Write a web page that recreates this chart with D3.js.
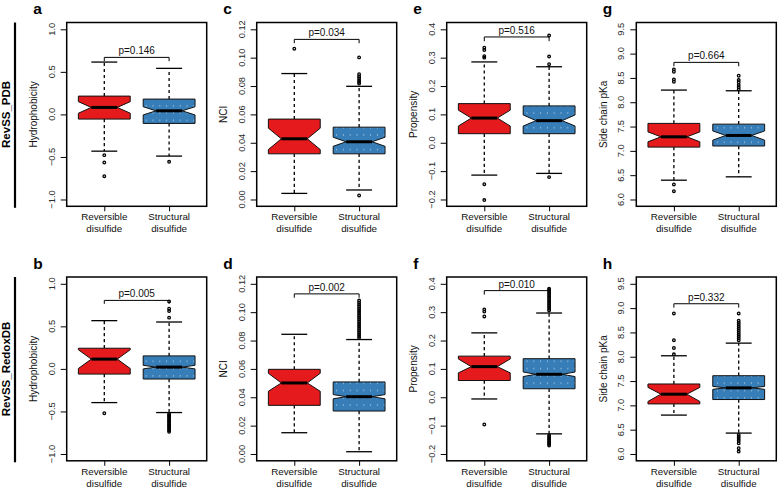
<!DOCTYPE html>
<html>
<head>
<meta charset="utf-8">
<script src="https://cdn.jsdelivr.net/npm/d3@7/dist/d3.min.js"></script>
<style>
  html, body { margin: 0; padding: 0; background: #fff; }
  text { font-family: "Liberation Sans", Arial, Helvetica, sans-serif; }
</style>
</head>
<body>
<svg id="chart" width="778" height="487"></svg>
<script>
// ---------------- DATA ----------------
const categories = ["Reversible disulfide", "Structural disulfide"];
const rowLabels = ["RevSS_PDB", "RevSS_RedoxDB"];
const panelIds = ["a", "b", "c", "d", "e", "f", "g", "h"];
const yTitles = ["Hydrophobicity", "NCI", "Propensity", "Side chain pKa"];
const yLimits = [[-1, 1], [0, 0.12], [-0.2, 0.4], [6, 9.5]];
const yTickValues = [
  [-1, -0.5, 0, 0.5, 1],
  [0, 0.02, 0.04, 0.06, 0.08, 0.10, 0.12],
  [-0.2, -0.1, 0, 0.1, 0.2, 0.3, 0.4],
  [6, 6.5, 7, 7.5, 8, 8.5, 9, 9.5]
];
const yTickLabels = [
  ["\u22121.0", "\u22120.5", "0.0", "0.5", "1.0"],
  ["0.00", "0.02", "0.04", "0.06", "0.08", "0.10", "0.12"],
  ["\u22120.2", "\u22120.1", "0.0", "0.1", "0.2", "0.3", "0.4"],
  ["6.0", "6.5", "7.0", "7.5", "8.0", "8.5", "9.0", "9.5"]
];
const pValues = ["p=0.146", "p=0.005", "p=0.034", "p=0.002", "p=0.516", "p=0.010", "p=0.664", "p=0.332"];
// bracket: [bar level, end of the drop]
const bracketLevels = [
  [0.67, 0.625], [0.805, 0.765], [0.1129, 0.1102], [0.1129, 0.1102],
  [0.373, 0.358], [0.376, 0.362], [8.82, 8.74], [9.09, 9.01]
];
// stats per group: [lower whisker, Q1, notch low, median, notch high, Q3, upper whisker]
const statsA = [[-0.432, -0.055, 0.014, 0.082, 0.15, 0.215, 0.615], [-0.49, -0.106, -0.006, 0.042, 0.09, 0.18, 0.541]];
const statsB = [[-0.396, -0.061, 0.005, 0.115, 0.225, 0.243, 0.567], [-0.513, -0.119, 0.0, 0.021, 0.042, 0.153, 0.551]];
const statsC = [[0.0043, 0.0322, 0.0352, 0.0428, 0.0503, 0.0567, 0.0888], [0.0067, 0.0322, 0.0375, 0.0407, 0.0439, 0.051, 0.0798]];
const statsD = [[0.015, 0.0343, 0.0442, 0.0501, 0.0569, 0.0597, 0.0844], [0.0016, 0.0303, 0.0389, 0.0404, 0.0419, 0.0508, 0.0807]];
const statsE = [[-0.114, 0.032, 0.059, 0.087, 0.115, 0.138, 0.285], [-0.108, 0.032, 0.059, 0.078, 0.098, 0.13, 0.268]];
const statsF = [[-0.006, 0.059, 0.086, 0.108, 0.135, 0.145, 0.227], [-0.129, 0.03, 0.073, 0.081, 0.089, 0.136, 0.297]];
const statsG = [[6.397, 7.077, 7.186, 7.289, 7.39, 7.565, 8.25], [6.466, 7.10, 7.22, 7.317, 7.41, 7.55, 8.236]];
const statsH = [[6.80, 7.03, 7.08, 7.23, 7.37, 7.44, 8.02], [6.43, 7.12, 7.33, 7.36, 7.39, 7.61, 8.28]];
// outliers per group
const outliersA = [[-0.479, -0.565, -0.726], [-0.557]];
const outliersB = [[-0.521], [0.793, 0.707, 0.68, 0.602, -0.53, -0.545, -0.56, -0.575, -0.59, -0.605, -0.62, -0.635, -0.65, -0.665, -0.68, -0.695, -0.71, -0.725, -0.74]];
const outliersC = [[0.1063], [0.1002, 0.0883, 0.0868, 0.0855, 0.0841, 0.0829, 0.0817, 0.0028]];
const outliersD = [[], [0.0819, 0.0832, 0.0845, 0.0858, 0.0871, 0.0884, 0.0897, 0.091, 0.0923, 0.0936, 0.0949, 0.0962, 0.0975, 0.0988, 0.1001, 0.1014, 0.1027, 0.104, 0.1053, 0.1066, 0.1082]];
const outliersE = [[0.335, 0.327, 0.305, 0.300, -0.146, -0.202], [0.378, 0.304, 0.277, -0.121]];
const outliersF = [[0.31, 0.302, 0.285, -0.096], [0.306, 0.312, 0.318, 0.324, 0.33, 0.336, 0.342, 0.348, 0.354, 0.36, 0.366, 0.372, 0.378, 0.383, -0.135, -0.14, -0.145, -0.15, -0.155, -0.16, -0.165, -0.17]];
const outliersG = [[8.677, 8.627, 8.471, 8.421, 6.309, 6.171], [8.545, 8.456, 8.41, 8.353, 8.307, 8.265]];
const outliersH = [[8.89, 8.34, 8.18, 8.05], [8.89, 8.74, 8.7, 8.66, 8.62, 8.58, 8.54, 8.5, 8.46, 8.42, 8.38, 8.34, 6.39, 6.35, 6.31, 6.27, 6.22, 6.12, 6.05]];

const allStats = [statsA, statsB, statsC, statsD, statsE, statsF, statsG, statsH];
const allOutliers = [outliersA, outliersB, outliersC, outliersD, outliersE, outliersF, outliersG, outliersH];

// ---------------- LAYOUT ----------------
const colLefts = [66.7, 256.7, 446.7, 636.3];
const rowTops = [22.5, 277];
const plotW = 140, plotH = 183.8;
const fills = ["#E41A1C", "#377EB8"];

const svg = d3.select("#chart");
svg.append("rect").attr("width", 778).attr("height", 487).attr("fill", "#fff");

const defs = svg.append("defs");
const pat = defs.append("pattern").attr("id", "dots").attr("patternUnits", "userSpaceOnUse")
  .attr("width", 6.8).attr("height", 7.3);
pat.append("rect").attr("width", 6.8).attr("height", 7.3).attr("fill", fills[1]);
pat.append("circle").attr("cx", 3.4).attr("cy", 3.6).attr("r", 0.55).attr("fill", "#cfe0f0");

// row labels & vertical bars
rowLabels.forEach((lab, r) => {
  const top = rowTops[r], bot = rowTops[r] + plotH;
  svg.append("line").attr("x1", 15).attr("x2", 15).attr("y1", top).attr("y2", bot + 1.5)
    .attr("stroke", "#000").attr("stroke-width", 2.2);
  const cy = (top + bot) / 2;
  svg.append("text").attr("transform", `translate(10,${cy}) rotate(-90)`)
    .attr("text-anchor", "middle").attr("font-weight", "bold").attr("font-size", 11.5)
    .attr("fill", "#000").text(lab);
});

panelIds.forEach((pid, i) => {
  const col = Math.floor(i / 2), row = i % 2;
  const left = colLefts[col], top = rowTops[row];
  const lim = yLimits[col];
  const rng = lim[1] - lim[0];
  const y = d3.scaleLinear().domain([lim[0] - 0.04 * rng, lim[1] + 0.04 * rng]).range([top + plotH, top]);
  const x = d3.scaleLinear().domain([0.42, 2.58]).range([left, left + plotW]);
  const g = svg.append("g");

  // panel letter
  g.append("text").attr("x", left - 33.5).attr("y", top - 8.5)
    .attr("font-weight", "bold").attr("font-size", 15.5).attr("fill", "#000").text(pid);

  // y axis
  const yAxis = d3.axisLeft(y).tickValues(yTickValues[col]).tickSize(6).tickFormat(() => "");
  const ax = g.append("g").attr("transform", `translate(${left},0)`).call(yAxis);
  ax.select(".domain").remove();
  ax.selectAll(".tick line").attr("stroke", "#000").attr("stroke-width", 1);
  yTickValues[col].forEach((v, k) => {
    const ty = y(v);
    g.append("text").attr("transform", `translate(${left - 12},${ty}) rotate(-90)`)
      .attr("text-anchor", "middle").attr("font-size", 9.3).attr("fill", "#2a2a2a")
      .text(yTickLabels[col][k]);
  });
  g.append("text").attr("transform", `translate(${left - 29.5},${top + plotH / 2}) rotate(-90)`)
    .attr("text-anchor", "middle").attr("font-size", 10).attr("fill", "#111").text(yTitles[col]);

  // x axis ticks & labels
  const xAxis = d3.axisBottom(x).tickValues([1, 2]).tickSize(5).tickFormat(() => "");
  const xa = g.append("g").attr("transform", `translate(0,${top + plotH})`).call(xAxis);
  xa.select(".domain").remove();
  xa.selectAll(".tick line").attr("stroke", "#000").attr("stroke-width", 1);
  categories.forEach((c, k) => {
    const parts = c.split(" ");
    const t = g.append("text").attr("text-anchor", "middle").attr("font-size", 9.8).attr("fill", "#111");
    t.append("tspan").attr("x", x(k + 1)).attr("y", top + plotH + 14).text(parts[0]);
    t.append("tspan").attr("x", x(k + 1)).attr("y", top + plotH + 25.7).text(parts[1]);
  });

  // boxes
  const stats = allStats[i];
  const outs = allOutliers[i];
  stats.forEach((s, k) => {
    const cx = k + 1;
    const [lw, q1, nl, med, nh, q3, uw] = s;
    const hw = 0.4, nw = 0.2, sw = 0.2;
    // whiskers
    g.append("line").attr("x1", x(cx)).attr("x2", x(cx)).attr("y1", y(q3)).attr("y2", y(uw))
      .attr("stroke", "#000").attr("stroke-width", 1.3).attr("stroke-dasharray", "3.2,2.8");
    g.append("line").attr("x1", x(cx)).attr("x2", x(cx)).attr("y1", y(q1)).attr("y2", y(lw))
      .attr("stroke", "#000").attr("stroke-width", 1.3).attr("stroke-dasharray", "3.2,2.8");
    g.append("line").attr("x1", x(cx - sw)).attr("x2", x(cx + sw)).attr("y1", y(uw)).attr("y2", y(uw))
      .attr("stroke", "#000").attr("stroke-width", 1.3);
    g.append("line").attr("x1", x(cx - sw)).attr("x2", x(cx + sw)).attr("y1", y(lw)).attr("y2", y(lw))
      .attr("stroke", "#000").attr("stroke-width", 1.3);
    // notched box
    const pts = [
      [cx - hw, q1], [cx - hw, nl], [cx - nw, med], [cx - hw, nh], [cx - hw, q3],
      [cx + hw, q3], [cx + hw, nh], [cx + nw, med], [cx + hw, nl], [cx + hw, q1]
    ];
    g.append("path").attr("d", d3.line().x(p => x(p[0])).y(p => y(p[1]))(pts) + "Z")
      .attr("fill", k === 0 ? fills[0] : "url(#dots)").attr("stroke", "#111").attr("stroke-width", 1);
    g.append("line").attr("x1", x(cx - nw)).attr("x2", x(cx + nw)).attr("y1", y(med)).attr("y2", y(med))
      .attr("stroke", "#000").attr("stroke-width", 3);
    // outliers
    g.selectAll(null).data(outs[k]).enter().append("circle")
      .attr("cx", x(cx)).attr("cy", v => y(v)).attr("r", 1.3)
      .attr("fill", "none").attr("stroke", "#000").attr("stroke-width", 1.3);
  });

  // p-value bracket
  const [bl, be] = bracketLevels[i];
  g.append("path").attr("d", `M${x(1)},${y(be)}V${y(bl)}H${x(2)}V${y(be)}`)
    .attr("fill", "none").attr("stroke", "#000").attr("stroke-width", 1);
  g.append("text").attr("x", x(1.5)).attr("y", y(bl) - 3).attr("text-anchor", "middle")
    .attr("font-size", 10).attr("fill", "#111").text(pValues[i]);

  // frame
  g.append("rect").attr("x", left).attr("y", top).attr("width", plotW).attr("height", plotH)
    .attr("fill", "none").attr("stroke", "#000").attr("stroke-width", 1.5);
});
</script>
</body>
</html>
